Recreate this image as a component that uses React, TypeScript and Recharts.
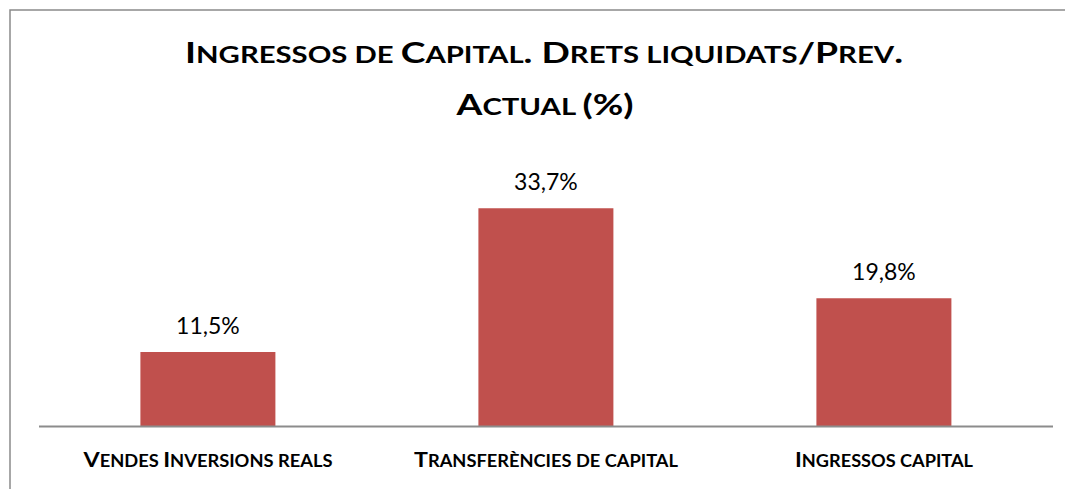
import React from "react";
import { BarChart, Bar, XAxis, YAxis, LabelList } from "recharts";

// ---- data ----
const categories = ["Vendes Inversions reals", "Transferències de capital", "Ingressos capital"];
const values = [11.5, 33.7, 19.8];
const titleLines = ["Ingressos de Capital. Drets liquidats/Prev.", "Actual (%)"];
const yDomain = [0, 40];

const data = categories.map((name, i) => ({ name, value: values[i] }));

// ---- styles ----
const FONT = "Lato, 'Open Sans', 'Noto Sans', sans-serif";
const BAR_COLOR = "#C0504D";
const AXIS_COLOR = "#8c8c8c";
const tickTextLength: Record<string, number> = {
  "Vendes Inversions reals": 249,
  "Transferències de capital": 264,
  "Ingressos capital": 178,
};
const titleTextLength = [718, 177];

type Run = { text: string; small: boolean };
function smallCapsRuns(text: string): Run[] {
  const runs: Run[] = [];
  for (const ch of text) {
    const isLower = ch !== ch.toUpperCase();
    const small = isLower || (ch === " " && runs.length > 0 && runs[runs.length - 1].small);
    const c = ch.toUpperCase();
    if (runs.length && runs[runs.length - 1].small === small) runs[runs.length - 1].text += c;
    else runs.push({ text: c, small });
  }
  return runs;
}

function SmallCapsText(props: {
  x: number; y: number; text: string; big: number; small: number; width: number;
}) {
  const { x, y, text, big, small, width } = props;
  const runs = smallCapsRuns(text);
  return (
    <text
      x={x}
      y={y}
      textAnchor="middle"
      textLength={width}
      lengthAdjust="spacingAndGlyphs"
      fontFamily={FONT}
      fontWeight={700}
      fill="#000"
    >
      {runs.map((r, i) => (
        <tspan key={i} fontSize={r.small ? small : big}>
          {r.text}
        </tspan>
      ))}
    </text>
  );
}

const CategoryTick = (props: any) => {
  const { x, y, payload } = props;
  const v = payload.value as string;
  return (
    <SmallCapsText x={x} y={y + 40.5} text={v} big={21} small={16.5} width={tickTextLength[v] ?? 200} />
  );
};

const ValueLabel = (props: any) => {
  const { x, y, width, value } = props;
  const txt = `${Number(value).toFixed(1).replace(".", ",")}%`;
  return (
    <text
      x={Number(x) + Number(width) / 2}
      y={Number(y) - 18.5}
      textAnchor="middle"
      fontFamily={FONT}
      fontSize={23}
      fill="#000"
    >
      {txt}
    </text>
  );
};

export default function App() {
  return (
    <div style={{ position: "absolute", left: 0, top: 0, width: 1065, height: 489, background: "#fff", overflow: "hidden" }}>
      <BarChart
        width={1065}
        height={489}
        data={data}
        margin={{ top: 167.5, right: 12, bottom: 0, left: 39 }}
        barCategoryGap="30%"
        style={{ outline: "none" }}
      >
        <XAxis
          dataKey="name"
          height={62.5}
          axisLine={{ stroke: AXIS_COLOR, strokeWidth: 2 }}
          tickLine={false}
          tickSize={0}
          tickMargin={0}
          tick={<CategoryTick />}
          interval={0}
        />
        <YAxis hide domain={yDomain} />
        <Bar dataKey="value" fill={BAR_COLOR} isAnimationActive={false}>
          <LabelList dataKey="value" content={<ValueLabel />} />
        </Bar>
      </BarChart>
      <svg
        width={1065}
        height={489}
        style={{ position: "absolute", left: 0, top: 0, pointerEvents: "none" }}
      >
        <path d="M10,489 V10 H1065" fill="none" stroke="#8a8a8a" strokeWidth={1.5} />
        <SmallCapsText x={544} y={63} text={titleLines[0]} big={28} small={22} width={titleTextLength[0]} />
        <SmallCapsText x={545} y={115} text={titleLines[1]} big={28} small={22} width={titleTextLength[1]} />
      </svg>
    </div>
  );
}
